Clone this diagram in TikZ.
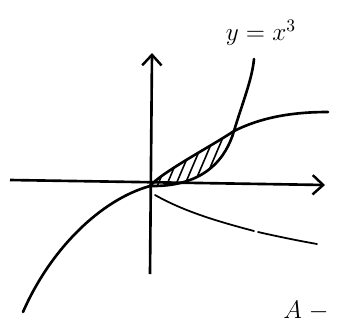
\documentclass[tikz,border=0pt]{standalone}
\usepackage{amsmath}
\usetikzlibrary{arrows,arrows.meta,positioning,calc}
\tikzset{
    axisline/.style={
        line width=1.5pt,         % ejes trazados a mano, bastante gruesos
        -{Straight Barb[length=6pt,width=11pt,line width=1.4pt]}
    },
    curveline/.style={
        line width=1.5pt,         % curvas principales
        line cap=round
    },
    branchline/.style={
        line width=1pt,           % rama inferior, más fina
        line cap=round
    },
    hatchline/.style={
        line width=0.9pt          % rayado del área
    }
}

\begin{document}
\begin{tikzpicture}[x=0.02cm, y=-0.02cm]
    \useasboundingbox (0,0) rectangle (337,321);

    \coordinate (origen) at (150,186);
    \coordinate (corte) at (234,131);

    % ejes
    \coordinate (xizq) at (10,180);
    \coordinate (xder) at (325,185);
    \coordinate (yabajo) at (150,274);
    \coordinate (yarriba) at (152,53);
    \draw[axisline] (xizq) -- (xder);
    \draw[axisline] (yabajo) -- (yarriba);

    % área rayada entre las dos curvas
    \begin{scope}
        \clip (origen) .. controls (162,172) and (210,147) .. (corte)
            .. controls (226,158) and (205,187) .. (origen) -- cycle;
        \foreach \k in {0,...,14} {
            \draw[hatchline] (135+9*\k,196) -- ++(32,-75);
        }
    \end{scope}

    % y = x^3
    \draw[curveline] (23,312) .. controls (50,250) and (100,200) .. (origen)
        .. controls (205,187) and (226,158) .. (corte)
        .. controls (242,104) and (252,80) .. (254,59);

    % rama superior
    \draw[curveline] (origen) .. controls (162,172) and (210,147) .. (corte)
        .. controls (260,118) and (290,112) .. (328,112);

    % rama inferior
    \draw[branchline] (155,195) .. controls (185,212) and (220,222) .. (254,231);
    \draw[branchline] (258,232) .. controls (280,237) and (300,241) .. (317,244);

    % etiquetas
    \node[font=\Large] (cubica) at (261,33) {$y=x^{3}$};
    \node[font=\Large, anchor=base west, inner sep=0pt] (area) at (283,318) {$A$\;$-$};
\end{tikzpicture}
\end{document}
